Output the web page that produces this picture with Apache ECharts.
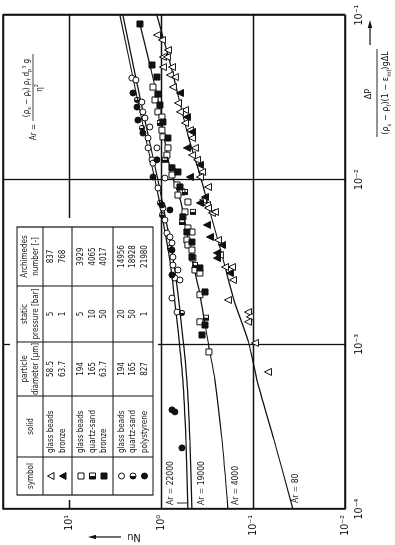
<!DOCTYPE html>
<html><head><meta charset="utf-8">
<script src="https://cdn.jsdelivr.net/npm/echarts@6/dist/echarts.min.js"></script>
<style>
html,body{margin:0;padding:0;background:#fff;overflow:hidden;width:395px;height:545px;}
#wrap{position:absolute;left:0;top:0;width:545px;height:395px;transform-origin:0 0;transform:translateY(545px) rotate(-90deg);background:#fff;}
</style></head><body><div id="wrap"></div>
<script>
// ---------- data: [ΔP/((ρs-ρf)(1-εmf)gΔL), Nu] ----------
const triOpen = [[0.0756,1.105],[0.0705,0.975],[0.0613,0.839],[0.0556,0.951],[0.0556,0.861],[0.0483,0.951],[0.0483,0.759],[0.0432,0.798],[0.0420,0.705],[0.0365,0.741],[0.0292,0.653],[0.0265,0.548],[0.0258,0.621],[0.0221,0.548],[0.0200,0.484],[0.0179,0.460],[0.0156,0.427],[0.0141,0.460],[0.0132,0.406],[0.01114,0.358],[0.01038,0.377],[0.00903,0.308],[0.00753,0.349],[0.00702,0.316],[0.00673,0.308],[0.00628,0.279],[0.00637,0.259],[0.00430,0.240],[0.00349,0.229],[0.00295,0.201],[0.00295,0.169],[0.00246,0.165],[0.00186,0.187],[0.00157,0.1133],[0.00147,0.108],[0.00137,0.1133],[0.00102,0.0951],[0.00068,0.0687]];
const triFilled = [[0.0336,0.621],[0.0240,0.522],[0.0195,0.460],[0.0156,0.522],[0.0123,0.377],[0.01038,0.484],[0.00785,0.332],[0.00722,0.377],[0.00531,0.316],[0.00449,0.293],[0.00401,0.217],[0.00359,0.246],[0.00334,0.246],[0.00271,0.178]];
const sqOpen = [[0.0365,1.22],[0.0305,1.16],[0.0258,1.078],[0.0240,0.975],[0.0200,0.975],[0.0182,0.951],[0.0156,0.839],[0.0141,0.861],[0.01114,0.741],[0.01068,0.759],[0.00929,0.670],[0.00842,0.591],[0.00807,0.653],[0.00732,0.509],[0.00637,0.548],[0.00509,0.509],[0.00481,0.460],[0.00430,0.522],[0.00401,0.509],[0.00374,0.460],[0.00334,0.449],[0.00283,0.427],[0.00271,0.377],[0.00200,0.377],[0.00137,0.377],[0.000899,0.301]];
const sqHalf = [[0.0221,1.025],[0.0132,0.905],[0.00842,0.548],[0.00637,0.449],[0.00553,0.591],[0.00303,0.427],[0.00145,0.324]];
const sqFilled = [[0.0882,1.69],[0.0497,1.25],[0.0420,1.105],[0.0331,1.078],[0.0284,1.025],[0.0224,0.951],[0.0179,0.839],[0.0118,0.759],[0.01114,0.653],[0.00903,0.621],[0.00594,0.577],[0.00481,0.522],[0.00418,0.460],[0.00339,0.460],[0.00291,0.377],[0.00208,0.332],[0.00131,0.332],[0.00114,0.358]];
const circOpen = [[0.0414,2.07],[0.0403,1.87],[0.0296,1.61],[0.0258,1.57],[0.0237,1.49],[0.0209,1.32],[0.0179,1.38],[0.0156,1.38],[0.0156,1.105],[0.0132,1.25],[0.0126,1.22],[0.01023,0.905],[0.00890,1.078],[0.00673,0.951],[0.00569,0.905],[0.00474,0.861],[0.00449,0.798],[0.00413,0.759],[0.00339,0.741],[0.00303,0.741],[0.00283,0.653],[0.00253,0.705],[0.00246,0.621],[0.00191,0.759],[0.00157,0.670]];
const circHalf = [[0.0305,1.82],[0.0206,1.61],[0.00722,1.025],[0.00610,0.975],[0.00385,0.798],[0.00155,0.591]];
const circFilled = [[0.0336,2.01],[0.0276,1.82],[0.0230,1.78],[0.0192,1.57],[0.0132,1.105],[0.01038,1.22],[0.00702,0.975],[0.00655,0.798],[0.00374,0.759],[0.00264,0.759],[0.000400,0.759],[0.000389,0.705],[0.000235,0.591]];

const ar22000 = [[0.1,2.79],[0.0414,2.01],[0.0187,1.49],[0.00996,1.16],[0.00569,0.951],[0.00325,0.798],[0.00141,0.670],[0.000608,0.577],[0.000263,0.535],[0.0001,0.509]];
const ar19000 = [[0.1,2.59],[0.0414,1.87],[0.0187,1.38],[0.00996,1.078],[0.00569,0.882],[0.00325,0.731],[0.00141,0.606],[0.000608,0.522],[0.000263,0.484],[0.0001,0.460]];
const ar4000 = [[0.088,1.69],[0.0497,1.32],[0.0305,1.078],[0.0118,0.798],[0.00732,0.606],[0.00334,0.460],[0.00200,0.377],[0.000964,0.301],[0.000608,0.259],[0.000263,0.217],[0.0001,0.187]];
const ar80 = [[0.1,1.105],[0.0463,0.759],[0.0187,0.509],[0.0107,0.377],[0.00637,0.293],[0.00349,0.217],[0.00186,0.161],[0.00102,0.111],[0.000608,0.0905],[0.000263,0.0591],[0.0001,0.0368]];
const arLabels = ['Ar = 22000','Ar = 19000','Ar = 4000','Ar = 80'];

const nuTicks = [0.01, 0.1, 1, 10];
const nuTickLabels = ['10⁻²','10⁻¹','10⁰','10¹'];
const dpTicks = [0.0001, 0.001, 0.01, 0.1];
const dpTickLabels = ['10⁻⁴','10⁻³','10⁻²','10⁻¹'];

const tableHeader = ['symbol','solid','particle\ndiameter [µm]','static\npressure [bar]','Archimedes\nnumber [-]'];
const solids = [['glass beads','bronze'],['glass beads','quartz-sand','bronze'],['glass beads','quartz-sand','polystyrene']];
const diameters = [['58.5','63.7'],['194','165','63.7'],['194','165','827']];
const pressures = [['5','1'],['5','10','50'],['20','50','1']];
const archimedes = [['837','768'],['3929','4065','4017'],['14956','18928','21980']];
const symbolKinds = [['triO','triF'],['sqO','sqH','sqF'],['ciO','ciH','ciF']];

// ---------- styling ----------
const FONT = "'DejaVu Sans Condensed','Liberation Sans Narrow','DejaVu Sans',sans-serif";
const INK = '#111';
const HALF_SQ = 'path://M0,0L10,0L10,10L0,10Z M5,1.5L5,8.5L8.5,8.5L8.5,1.5Z';
const HALF_CI = 'path://M5,0A5,5 0 1,1 5,10A5,5 0 1,1 5,0Z M5,8.5A3.5,3.5 0 0,0 5,1.5Z';

function fmt(ticks, labels) {
  return function (v) {
    for (let i = 0; i < ticks.length; i++) {
      if (Math.abs(Math.log10(v) - Math.log10(ticks[i])) < 0.01) return labels[i];
    }
    return '';
  };
}
function txt(x, y, text, o) {
  o = o || {};
  const st = {text: text, fill: INK, fontSize: o.size || 8, fontFamily: FONT,
    align: o.align || 'center', verticalAlign: 'middle', textAlign: o.align || 'center', textVerticalAlign: 'middle'};
  if (o.lh) st.lineHeight = o.lh;
  if (o.rich) st.rich = o.rich;
  return {type: 'text', x: x, y: y, rotation: o.rot || 0, z: 8, silent: true, style: st};
}
function ln(x1, y1, x2, y2, w) {
  return {type: 'line', z: 7, silent: true, shape: {x1: x1, y1: y1, x2: x2, y2: y2}, style: {stroke: INK, lineWidth: w || 1}};
}
function tableSymbol(kind, cx, cy) {
  const s = {stroke: INK, lineWidth: 1};
  const out = [];
  if (kind === 'triO' || kind === 'triF') {
    out.push({type: 'polygon', z: 8, shape: {points: [[cx, cy - 3.5], [cx + 3.5, cy + 3], [cx - 3.5, cy + 3]]}, style: Object.assign({fill: kind === 'triF' ? INK : '#fff'}, s)});
  } else if (kind === 'sqO' || kind === 'sqF' || kind === 'sqH') {
    out.push({type: 'rect', z: 8, shape: {x: cx - 3, y: cy - 3, width: 6, height: 6}, style: Object.assign({fill: kind === 'sqF' ? INK : '#fff'}, s)});
    if (kind === 'sqH') out.push({type: 'rect', z: 9, shape: {x: cx - 3, y: cy - 3, width: 3, height: 6}, style: {fill: INK}});
  } else {
    out.push({type: 'circle', z: 8, shape: {cx: cx, cy: cy, r: 3}, style: Object.assign({fill: kind === 'ciF' ? INK : '#fff'}, s)});
    if (kind === 'ciH') out.push({type: 'sector', z: 9, shape: {cx: cx, cy: cy, r: 3, r0: 0, startAngle: Math.PI / 2, endAngle: Math.PI * 1.5, clockwise: true}, style: {fill: INK}});
  }
  return out;
}

// ---------- graphic: table, formula, names ----------
const g = [];
g.push({type: 'rect', z: 1, silent: true, shape: {x: 45, y: 10, width: 282, height: 148}, style: {fill: '#fff'}});
const cols = [50, 88, 149, 203, 259, 318];
const rows = [17, 43, 72, 113, 153];
g.push({type: 'rect', z: 6, silent: true, shape: {x: 50, y: 17, width: 268, height: 136}, style: {fill: '#fff', stroke: INK, lineWidth: 1.2}});
for (let i = 1; i < cols.length - 1; i++) g.push(ln(cols[i], 17, cols[i], 153, 1));
for (let i = 1; i < rows.length - 1; i++) g.push(ln(50, rows[i], 318, rows[i], 1));
const colMid = [69, 118.5, 176, 231, 288.5];
tableHeader.forEach((h, i) => g.push(txt(colMid[i], 30.5, h, {size: 8, lh: 10.5})));
const lineY = [[51, 63], [81, 92.5, 104], [121.5, 133, 144.5]];
for (let gi = 0; gi < 3; gi++) {
  lineY[gi].forEach((y, k) => {
    tableSymbol(symbolKinds[gi][k], 69, y).forEach(e => g.push(e));
    g.push(txt(92, y, solids[gi][k], {align: 'left'}));
    g.push(txt(colMid[2], y, diameters[gi][k]));
    g.push(txt(colMid[3], y, pressures[gi][k]));
    g.push(txt(colMid[4], y, archimedes[gi][k]));
  });
}
// Ar definition
const richF = {
  n: {fontSize: 8, lineHeight: 11, fontFamily: FONT, fill: INK, color: INK},
  s: {fontSize: 5.5, lineHeight: 6, verticalAlign: 'bottom', fontFamily: FONT, fill: INK, color: INK},
  p: {fontSize: 5.5, lineHeight: 6, verticalAlign: 'top', fontFamily: FONT, fill: INK, color: INK}
};
g.push(txt(421, 34, 'Ar =', {size: 8, align: 'right'}));
g.push(txt(457, 27, '{n|(ρ}{s|s}{n| − ρ}{s|f}{n|) ρ}{s|f}{n| d}{s|p}{p|3}{n| g}', {rich: richF}));
g.push(ln(424, 33, 491, 33, 0.8));
g.push(txt(457, 39.5, '{n|η}{p|2}', {rich: richF}));
// Ar curve labels
g.push(txt(40, 171, arLabels[0], {size: 8.5, align: 'left'}));
g.push(txt(40, 202, arLabels[1], {size: 8.5, align: 'left'}));
g.push(txt(40, 236, arLabels[2], {size: 8.5, align: 'left'}));
g.push(txt(42, 296, arLabels[3], {size: 8.5, align: 'left'}));
g.push(ln(42, 177, 42, 188, 0.9));
// Nu axis name with arrow
g.push(txt(8, 134, 'Nu', {size: 11, rot: Math.PI / 2}));
g.push(ln(8, 121, 8, 94, 1.2));
g.push({type: 'polygon', z: 8, silent: true, shape: {points: [[8, 88], [5.8, 96], [10.2, 96]]}, style: {fill: INK}});
// ΔP axis name (fraction) with arrow
const richD = {
  n: {fontSize: 9, lineHeight: 12, fontFamily: FONT, fill: INK, color: INK},
  s: {fontSize: 6, lineHeight: 6, verticalAlign: 'bottom', fontFamily: FONT, fill: INK, color: INK}
};
g.push(txt(451, 369, '{n|ΔP}', {rich: richD}));
g.push(ln(408, 377, 496, 377, 0.9));
g.push(txt(452, 386, '{n|(ρ}{s|s}{n| − ρ}{s|f}{n|)(1 − ε}{s|mf}{n|)gΔL}', {rich: richD}));
g.push(ln(500, 370, 519, 370, 1.2));
g.push({type: 'polygon', z: 8, silent: true, shape: {points: [[525, 370], [517, 367.8], [517, 372.2]]}, style: {fill: INK}});

// ---------- series ----------
function lineSeries(name, data) {
  return {name: name, type: 'line', data: data, symbol: 'none', smooth: 0.25, silent: true, z: 2,
    lineStyle: {color: INK, width: 1.2}};
}
function scat(name, data, symbol, size, filled, border) {
  return {name: name, type: 'scatter', data: data, symbol: symbol, symbolSize: size, z: 4, silent: true,
    itemStyle: {color: filled ? INK : '#fff', borderColor: INK, borderWidth: border == null ? 1 : border, opacity: 1}};
}

const axisCommon = {
  type: 'log', logBase: 10,
  axisLine: {show: false}, axisTick: {show: false},
  splitLine: {show: true, lineStyle: {color: INK, width: 1.3}},
  minorTick: {show: false}, minorSplitLine: {show: false}
};

const option = {
  animation: false,
  backgroundColor: '#fff',
  textStyle: {fontFamily: FONT},
  grid: {left: 36, right: 15, top: 3, bottom: 50, show: true, borderColor: INK, borderWidth: 1.5, backgroundColor: 'transparent'},
  xAxis: Object.assign({}, axisCommon, {min: 1e-4, max: 0.1,
    axisLabel: {formatter: fmt(dpTicks, dpTickLabels), fontSize: 10.5, color: INK, margin: 9, fontFamily: FONT}}),
  yAxis: Object.assign({}, axisCommon, {min: 0.01, max: 52,
    axisLabel: {formatter: fmt(nuTicks, nuTickLabels), fontSize: 10.5, color: INK, margin: 6, fontFamily: FONT}}),
  series: [
    lineSeries('Ar = 22000', ar22000),
    lineSeries('Ar = 19000', ar19000),
    lineSeries('Ar = 4000', ar4000),
    lineSeries('Ar = 80', ar80),
    scat('glass beads 58.5 µm', triOpen, 'triangle', 7, false),
    scat('bronze 63.7 µm (Ar 768)', triFilled, 'triangle', 7, true),
    scat('glass beads 194 µm (5 bar)', sqOpen, 'rect', 6, false),
    scat('quartz-sand 165 µm (10 bar)', sqHalf, HALF_SQ, 6, true, 0),
    scat('bronze 63.7 µm (50 bar)', sqFilled, 'rect', 6, true),
    scat('glass beads 194 µm (20 bar)', circOpen, 'circle', 6, false),
    scat('quartz-sand 165 µm (50 bar)', circHalf, HALF_CI, 6, true, 0),
    scat('polystyrene 827 µm', circFilled, 'circle', 6, true)
  ],
  graphic: g
};

const chart = echarts.init(document.getElementById('wrap'), null, {renderer: 'canvas'});
chart.setOption(option);
</script></body></html>
